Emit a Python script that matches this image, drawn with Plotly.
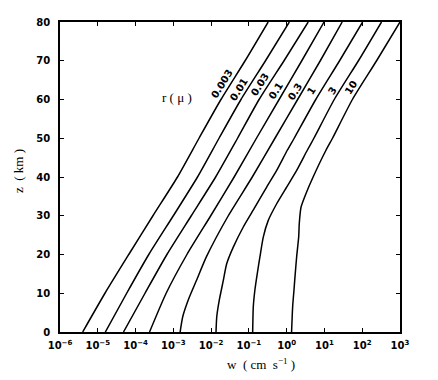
import plotly.graph_objects as go

# ---- data: altitude z (km) and log10 of fall speed w (cm/s) for each radius r (micron)
radii = ["0.003", "0.01", "0.03", "0.1", "0.3", "1", "3", "10"]

z_r0003 = [0, 10, 20, 30, 40, 50, 60, 70, 80]
logw_r0003 = [-5.40, -4.81, -4.18, -3.54, -2.89, -2.32, -1.74, -1.10, -0.49]

z_r001 = [0, 10, 20, 30, 40, 50, 60, 70, 80]
logw_r001 = [-4.80, -4.235, -3.65, -3.00, -2.36, -1.79, -1.21, -0.56, 0.07]

z_r003 = [0, 10, 20, 30, 40, 50, 60, 70, 80]
logw_r003 = [-4.32, -3.75, -3.17, -2.525, -1.88, -1.30, -0.73, -0.07, 0.57]

z_r01 = [0, 10, 20, 30, 40, 50, 60, 70, 80]
logw_r01 = [-3.63, -3.19, -2.64, -2.01, -1.39, -0.80, -0.20, 0.40, 0.99]

z_r03 = [0, 4, 8.4, 13.5, 19.5, 30, 40, 50, 60, 70, 80]
logw_r03 = [-2.82, -2.75, -2.60, -2.38, -2.12, -1.545, -0.91, -0.31, 0.29, 0.89, 1.47]

z_r1 = [0, 4, 8.4, 13.3, 17.6, 21.9, 27.1, 32.2, 37.4, 41.7, 46.9, 50, 60, 70, 80]
logw_r1 = [-1.87, -1.85, -1.78, -1.677, -1.588, -1.413, -1.148, -0.839, -0.529,
           -0.264, 0.016, 0.199, 0.77, 1.40, 2.01]

z_r3 = [0, 6.6, 10.9, 15.2, 19.5, 24.5, 28.8, 33.1, 37.4, 41.7, 46.9, 50, 60, 70, 80]
logw_r3 = [-0.90, -0.883, -0.84, -0.776, -0.706, -0.619, -0.487, -0.264, 0.0,
           0.265, 0.546, 0.72, 1.26, 1.90, 2.51]

z_r10 = [0, 6.6, 10.9, 15.2, 19.5, 24.5, 28.0, 32.2, 35.7, 40, 46.9, 50, 60, 70, 80]
logw_r10 = [0.13, 0.159, 0.194, 0.228, 0.265, 0.318, 0.334, 0.38, 0.51, 0.70,
            1.04, 1.213, 1.74, 2.38, 3.0]

z_series = [z_r0003, z_r001, z_r003, z_r01, z_r03, z_r1, z_r3, z_r10]
logw_series = [logw_r0003, logw_r001, logw_r003, logw_r01, logw_r03, logw_r1, logw_r3, logw_r10]

x_tick_exponents = [-6, -5, -4, -3, -2, -1, 0, 1, 2, 3]
y_ticks = [0, 10, 20, 30, 40, 50, 60, 70, 80]

# label anchor positions (log10 w, z)
label_logw = [-1.71, -1.275, -0.706, -0.283, 0.22, 0.662, 1.218, 1.70]
label_z = [64.1, 62.7, 63.8, 62.3, 62.1, 62.3, 62.3, 63.1]

fig = go.Figure()
for zs, lw, name in zip(z_series, logw_series, radii):
    fig.add_trace(go.Scatter(
        x=[10 ** v for v in lw], y=zs, mode="lines", name=name,
        line=dict(color="black", width=1.5, shape="spline", smoothing=0.6),
        showlegend=False, hoverinfo="skip"))

tick_font = dict(family="DejaVu Sans", size=10, color="black", weight="bold")
serif = "Liberation Serif"

L, R, T, B = 60, 400, 22, 332  # plot area in pixels
PW, PH = R - L, B - T

annotations = []
for lx, lz, name in zip(label_logw, label_z, radii):
    annotations.append(dict(x=lx, y=lz, xref="x", yref="y", text=name,
                            showarrow=False, textangle=-58,
                            xanchor="center", yanchor="middle",
                            font=dict(family="DejaVu Sans", size=10,
                                      color="black", weight="bold")))
annotations.append(dict(x=-2.91, y=60.4, xref="x", yref="y", text="r ( μ )",
                        showarrow=False, xanchor="center", yanchor="middle",
                        font=dict(family=serif, size=13, color="black")))
annotations.append(dict(x=(261 - L) / PW, y=-(364 - B) / PH, xref="paper", yref="paper",
                        text="w  ( cm  s<sup>−1</sup> )", showarrow=False,
                        xanchor="center", yanchor="middle",
                        font=dict(family=serif, size=13, color="black")))
annotations.append(dict(x=-(L - 19) / PW, y=(B - 171) / PH, xref="paper", yref="paper",
                        text="z  ( km )", showarrow=False, textangle=-90,
                        xanchor="center", yanchor="middle",
                        font=dict(family=serif, size=13, color="black")))

fig.update_layout(
    width=438, height=380,
    margin=dict(l=L, r=438 - R, t=T, b=380 - B),
    paper_bgcolor="white", plot_bgcolor="white",
    annotations=annotations,
    xaxis=dict(type="log", range=[-6, 3],
               tickvals=[10 ** e for e in x_tick_exponents],
               ticktext=[f"10<sup>{'−' if e < 0 else ''}{abs(e)}</sup>" for e in x_tick_exponents],
               ticks="inside", ticklen=4, tickwidth=1.2, tickcolor="black",
               showline=True, linecolor="black", linewidth=1.5, mirror="ticks",
               showgrid=False, zeroline=False, tickfont=dict(tick_font, size=10),
               ticklabelstandoff=3),
    yaxis=dict(range=[0, 80], tickvals=y_ticks,
               ticks="inside", ticklen=4, tickwidth=1.2, tickcolor="black",
               showline=True, linecolor="black", linewidth=1.5, mirror="ticks",
               showgrid=False, zeroline=False, tickfont=tick_font,
               ticklabelstandoff=6),
)

fig.write_html("out.html", config={"displayModeBar": False},
               post_script="document.body.style.margin='0';")
